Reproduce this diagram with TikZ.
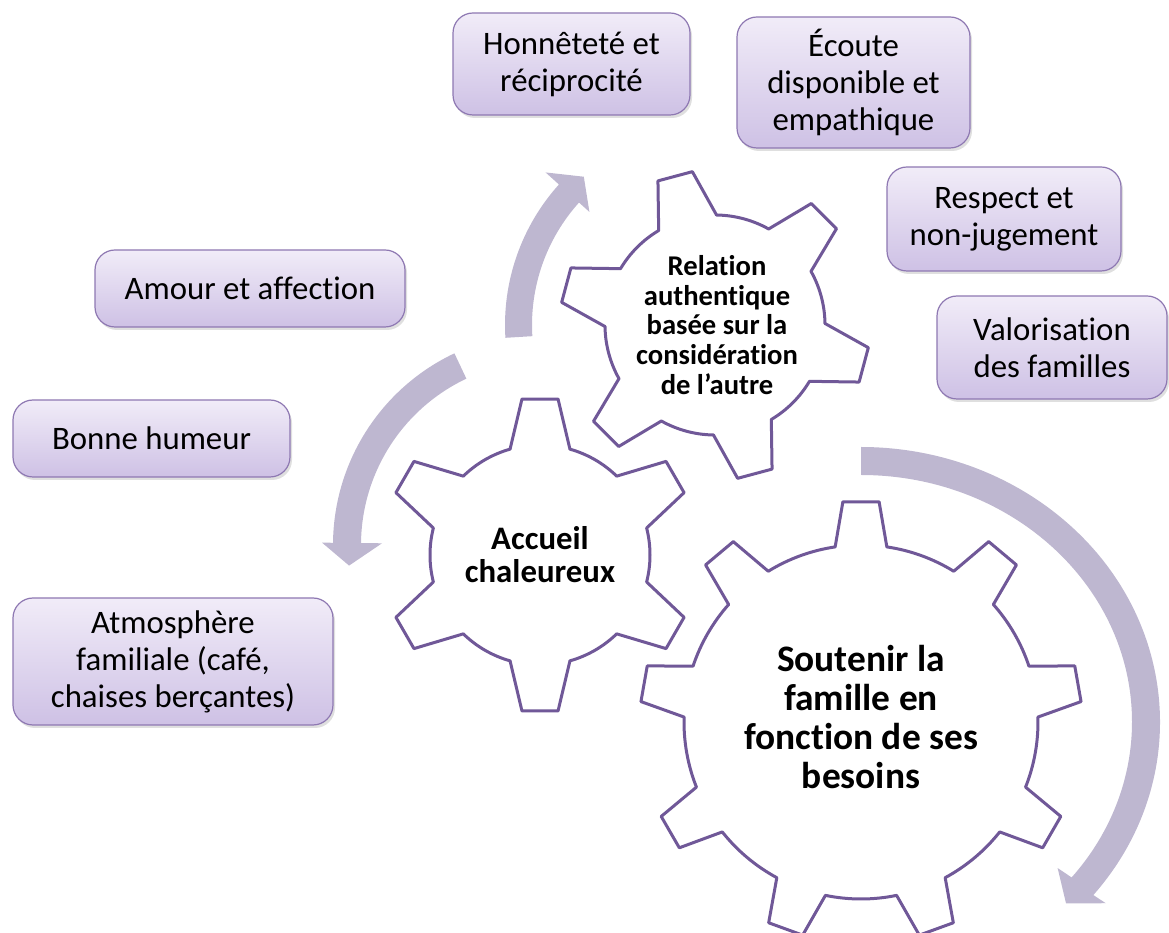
\documentclass[tikz,border=0pt]{standalone}
\usepackage{fontspec}
\setmainfont{Carlito}[Ligatures=NoCommon]
\usetikzlibrary{shadows}

\definecolor{boxline}{RGB}{142,120,178}
\definecolor{boxtop}{RGB}{241,236,248}
\definecolor{boxbottom}{RGB}{206,193,229}
\definecolor{gearline}{RGB}{112,88,152}
\definecolor{swirlfill}{RGB}{190,183,208}

% #1,#2 centre, #3 teeth, #4 root radius, #5 tip radius,
% #6 first tooth angle, #7 root half angle, #8 tip half angle
\newcommand{\drawgear}[8]{%
  \draw[gear, shift={(#1,#2)}] ({#6-#7}:#4)
    \foreach \k in {1,...,#3} {
      -- ({#6+(\k-1)*360/#3-#8}:#5) -- ({#6+(\k-1)*360/#3+#8}:#5)
      -- ({#6+(\k-1)*360/#3+#7}:#4)
      arc[start angle={#6+(\k-1)*360/#3+#7}, end angle={#6+\k*360/#3-#7}, radius=#4]
    } -- cycle;}

\begin{document}
\begin{tikzpicture}[x=0.5pt, y=0.5pt,
    box/.style={draw=boxline, line width=0.6pt, rounded corners=10pt,
        top color=boxtop, bottom color=boxbottom,
        drop shadow={shadow xshift=1pt, shadow yshift=-1.5pt, opacity=0.25},
        align=center, inner sep=0pt, outer sep=0pt,
        font=\fontsize{16.4pt}{18.5pt}\selectfont},
    gear/.style={draw=gearline, line width=1.5pt, fill=white, line join=round},
    swirl/.style={fill=swirlfill}]
    \useasboundingbox (0,0) rectangle (1169,933);

    % circular arrows
    \fill[swirl, shift={(715,608)}]
        (183.5:183) arc[start angle=183.5, end angle=138, radius=183]
        -- (138:169) -- (131.5:198) -- (138:228) -- (138:210)
        arc[start angle=138, end angle=183.5, radius=210] -- cycle;
    \fill[swirl, shift={(545,388)}]
        (115.3:184) arc[start angle=115.3, end angle=179.4, radius=184]
        -- (179.4:163) -- (186:197) -- (179.4:223) -- (179.4:212)
        arc[start angle=179.4, end angle=115.3, radius=212] -- cycle;
    \fill[swirl, shift={(861,211)}]
        (90:271 and 247) arc[start angle=90, end angle=-39, x radius=271, y radius=247]
        -- (-39:253 and 232) -- (-44:285 and 261) -- (-39:315 and 288) -- (-39:299 and 275)
        arc[start angle=-39, end angle=90, x radius=299, y radius=275] -- cycle;

    % gears
    \drawgear{540}{378}{6}{110}{157}{90}{15.8}{6.6}
    \drawgear{715}{608}{6}{110}{155}{105}{15.8}{6.6}
    \drawgear{861}{211}{9}{177}{221}{90}{8.4}{4.7}

    \node[align=center, font=\bfseries\fontsize{16.4pt}{16.5pt}\selectfont] (accueil) at (540,378)
        {Accueil\\chaleureux};
    \node[align=center, font=\bfseries\fontsize{14.3pt}{14.8pt}\selectfont] (relation) at (717,608)
        {Relation\\authentique\\basée sur la\\considération\\de l’autre};
    \node[align=center, font=\bfseries\fontsize{18.7pt}{19.5pt}\selectfont] (soutenir) at (861,216)
        {Soutenir la\\famille en\\fonction de ses\\besoins};

    % boxes
    \node[box, minimum width=118.5pt, minimum height=51pt] (honnetete) at (571.5,869)
        {Honnêteté et\\réciprocité};
    \node[box, minimum width=116.5pt, minimum height=65.5pt] (ecoute) at (853.5,850.5)
        {Écoute\\disponible et\\empathique};
    \node[box, minimum width=117pt, minimum height=52pt] (respect) at (1004,714)
        {Respect et\\non-jugement};
    \node[box, minimum width=115pt, minimum height=51.5pt] (valorisation) at (1052,585.5)
        {Valorisation\\des familles};
    \node[box, minimum width=155pt, minimum height=38.5pt] (amour) at (250,644.5)
        {Amour et affection};
    \node[box, minimum width=138.5pt, minimum height=38.5pt] (humeur) at (151.5,494.5)
        {Bonne humeur};
    \node[box, minimum width=160pt, minimum height=63.5pt] (atmosphere) at (173,271.5)
        {Atmosphère\\familiale (café,\\chaises berçantes)};
\end{tikzpicture}
\end{document}
